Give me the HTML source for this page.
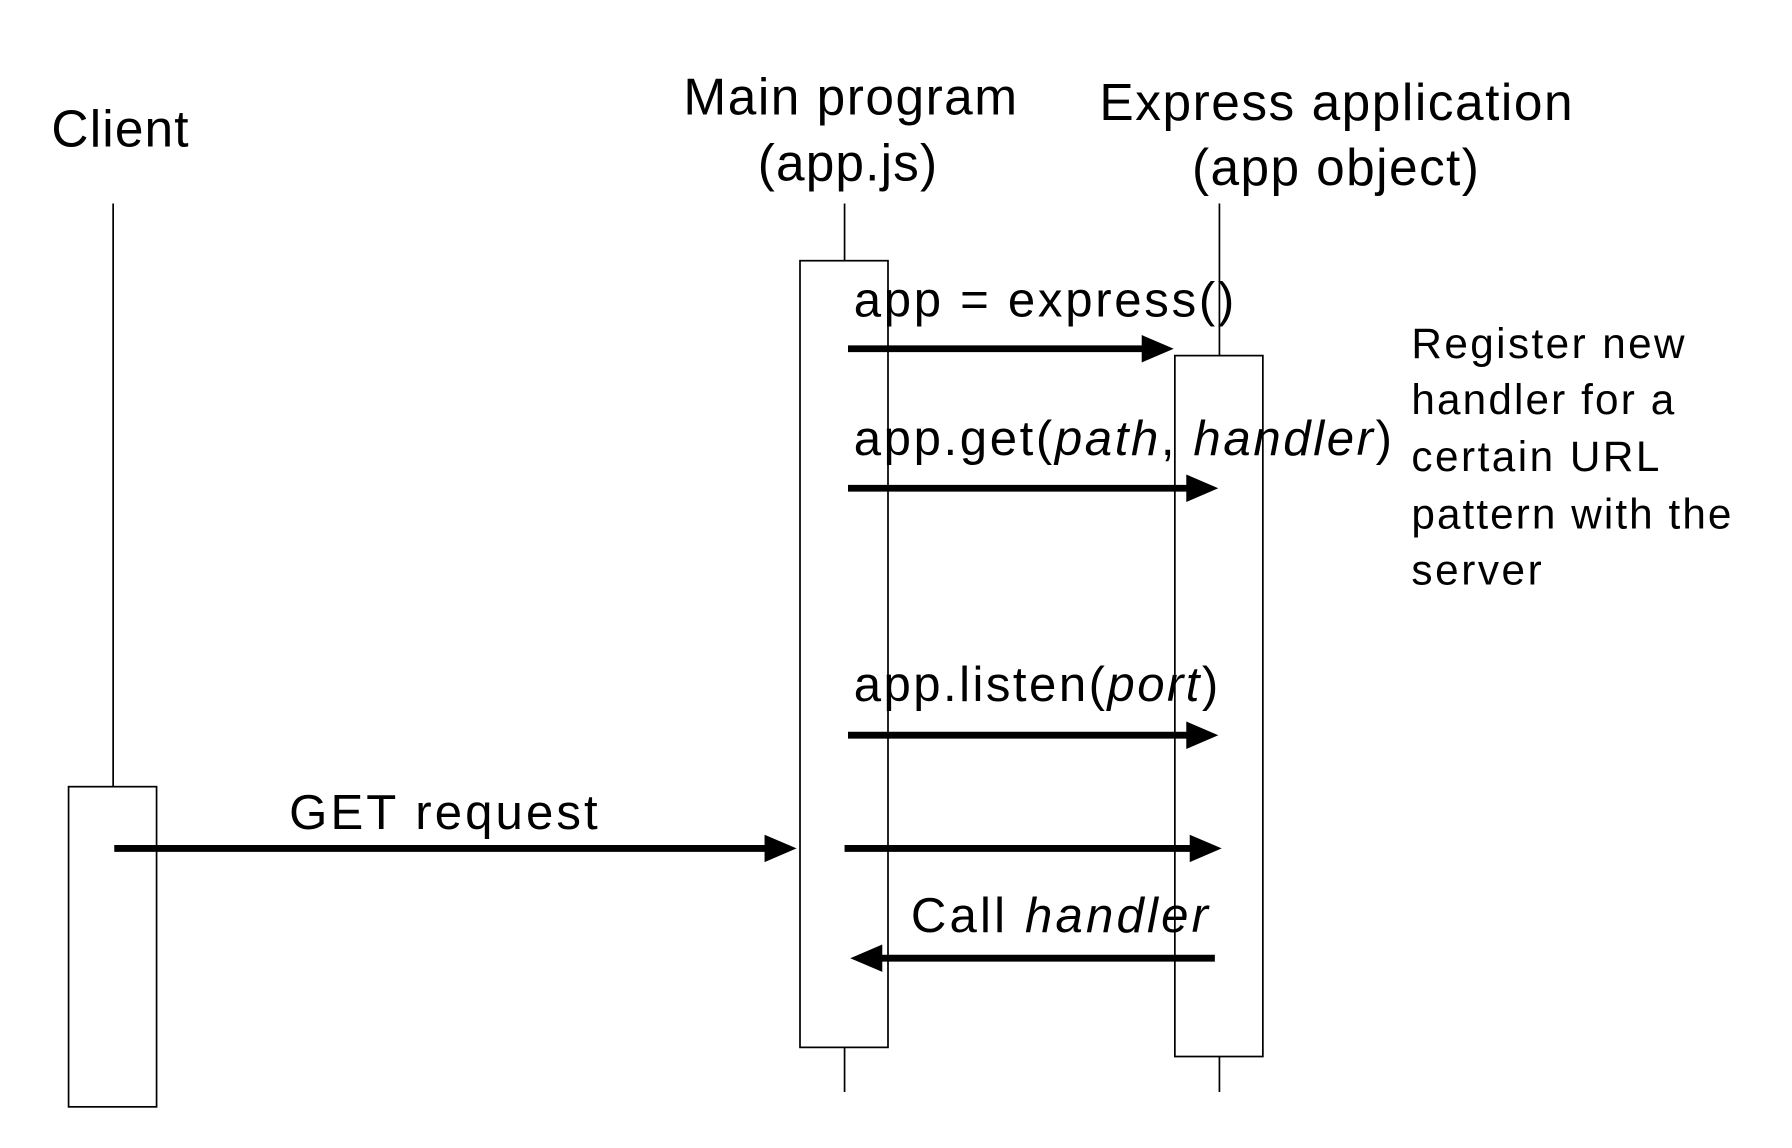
<!DOCTYPE html>
<html><head><meta charset="utf-8"><style>
html,body{margin:0;padding:0;background:#fff;width:1792px;height:1148px;overflow:hidden}
svg{display:block}
text{font-family:"Liberation Sans",Arial,sans-serif;fill:#000}
</style></head><body>
<svg width="1792" height="1148" viewBox="0 0 1568 1004" preserveAspectRatio="none" xmlns="http://www.w3.org/2000/svg">
<g stroke="#000" stroke-width="1.5" fill="none">
<line x1="99" y1="178" x2="99" y2="688"/>
<rect x="60" y="688" width="77" height="280" fill="#fff"/>
<line x1="739" y1="178" x2="739" y2="228"/>
<line x1="739" y1="916" x2="739" y2="955"/>
<rect x="700" y="228" width="77" height="688" fill="#fff"/>
<line x1="1067" y1="178" x2="1067" y2="311"/>
<line x1="1067" y1="924" x2="1067" y2="955"/>
<rect x="1028" y="311" width="77" height="613" fill="#fff"/>
</g>
<g stroke="#000" stroke-width="6">
<line x1="742" y1="305" x2="1002" y2="305"/>
<line x1="742" y1="427" x2="1040" y2="427"/>
<line x1="742" y1="643" x2="1040" y2="643"/>
<line x1="100" y1="742" x2="672" y2="742"/>
<line x1="739" y1="742" x2="1043" y2="742"/>
<line x1="1063" y1="838" x2="769" y2="838"/>
</g>
<g fill="#000">
<polygon points="1027,305 999,293 999,317"/>
<polygon points="1066,427 1038,415 1038,439"/>
<polygon points="1066,643 1038,631 1038,655"/>
<polygon points="697,742 669,730 669,754"/>
<polygon points="1069,742 1041,730 1041,754"/>
<polygon points="744,838 772,826 772,850"/>
</g>
<g font-size="45">
<text x="45" y="128" textLength="120" lengthAdjust="spacing">Client</text>
<text x="598" y="100" textLength="292" lengthAdjust="spacing">Main program</text>
<text x="663" y="158" textLength="157" lengthAdjust="spacing">(app.js)</text>
<text x="962" y="105" textLength="414" lengthAdjust="spacing">Express application</text>
<text x="1043" y="162" textLength="251" lengthAdjust="spacing">(app object)</text>
</g>
<g font-size="43">
<text x="747" y="277" textLength="333" lengthAdjust="spacing">app = express()</text>
<text x="747" y="398" textLength="471" lengthAdjust="spacing">app.get(<tspan font-style="italic">path</tspan>, <tspan font-style="italic">handler</tspan>)</text>
<text x="747" y="613" textLength="319" lengthAdjust="spacing">app.listen(<tspan font-style="italic">port</tspan>)</text>
<text x="253" y="725" textLength="270" lengthAdjust="spacing">GET request</text>
<text x="797" y="815" textLength="260" lengthAdjust="spacing">Call <tspan font-style="italic">handler</tspan></text>
</g>
<g font-size="37">
<text x="1235" y="313" textLength="239" lengthAdjust="spacing">Register new</text>
<text x="1235" y="362" textLength="230" lengthAdjust="spacing">handler for a</text>
<text x="1235" y="412" textLength="217" lengthAdjust="spacing">certain URL</text>
<text x="1235" y="462" textLength="280" lengthAdjust="spacing">pattern with the</text>
<text x="1235" y="511" textLength="114" lengthAdjust="spacing">server</text>
</g>
</svg>
</body></html>
